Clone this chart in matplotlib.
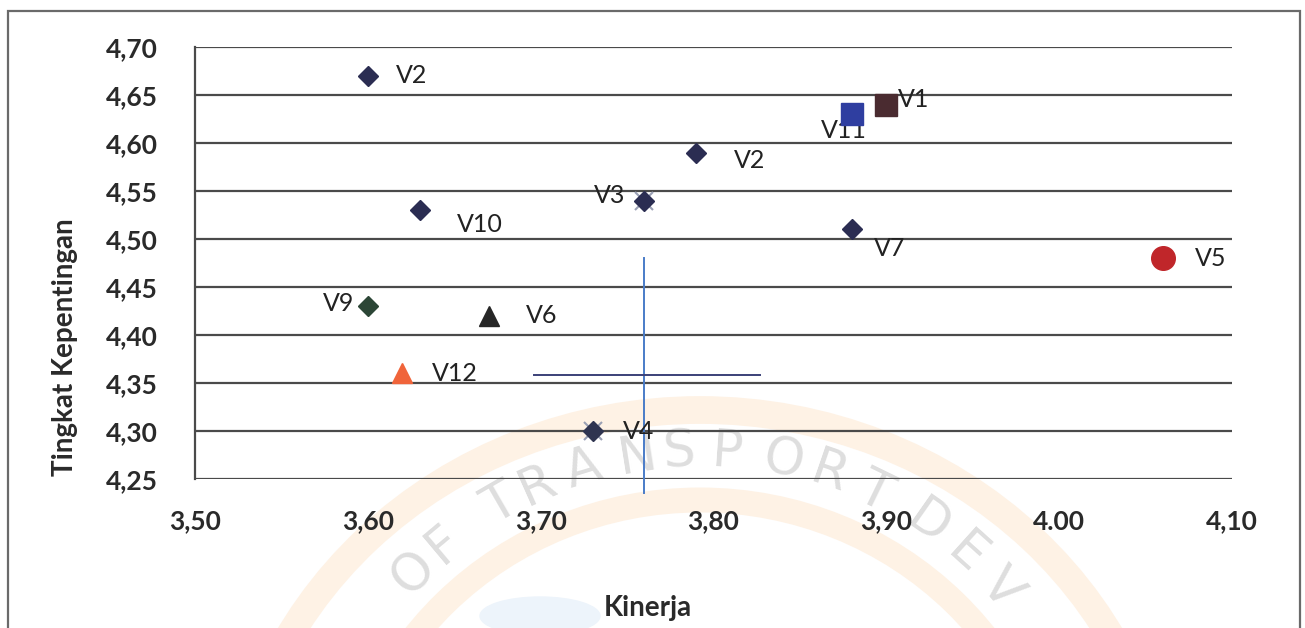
import numpy as np
import matplotlib
matplotlib.use("Agg")
import matplotlib.pyplot as plt
from matplotlib.patches import Arc, Ellipse, Rectangle

# --- data -------------------------------------------------------------
labels = ['V1', 'V2', 'V2', 'V3', 'V4', 'V5', 'V6', 'V7', 'V9', 'V10', 'V11', 'V12']
kinerja = [3.90, 3.60, 3.79, 3.76, 3.73, 4.06, 3.67, 3.88, 3.60, 3.63, 3.88, 3.62]
kepentingan = [4.64, 4.67, 4.59, 4.54, 4.30, 4.48, 4.42, 4.51, 4.43, 4.53, 4.63, 4.36]

x_ticks = [3.50, 3.60, 3.70, 3.80, 3.90, 4.00, 4.10]
x_tick_labels = ['3,50', '3,60', '3,70', '3,80', '3,90', '4.00', '4,10']
y_ticks = [4.25, 4.30, 4.35, 4.40, 4.45, 4.50, 4.55, 4.60, 4.65, 4.70]
y_tick_labels = ['4,25', '4,30', '4,35', '4,40', '4,45', '4,50', '4,55', '4,60', '4,65', '4,70']

# reference lines
vline_x = 3.76
vline_y = (4.235, 4.48)
hline_y = 4.358
hline_x = (3.696, 3.827)

# marker style per point
styles = {
    'V1':  dict(marker='s', ms=16, color='#4a2b30'),
    'V2':  dict(marker='D', ms=10, color='#2b2d52'),
    'V3':  dict(marker='D', ms=10, color='#2b2d52'),
    'V4':  dict(marker='D', ms=10, color='#2f3450'),
    'V5':  dict(marker='o', ms=17, color='#c0262a'),
    'V6':  dict(marker='^', ms=14, color='#262626'),
    'V7':  dict(marker='D', ms=10, color='#2b2d52'),
    'V9':  dict(marker='D', ms=10, color='#2c4636'),
    'V10': dict(marker='D', ms=10, color='#2b2d52'),
    'V11': dict(marker='s', ms=16, color='#2f3ea0'),
    'V12': dict(marker='^', ms=14, color='#f0643a'),
}
# label placement (offset in points, horizontal alignment)
label_pos = [
    ((8, 4), 'left'),     # V1
    ((20, 0), 'left'),    # V2
    ((27, -6), 'left'),   # V2
    ((-14, 4), 'right'),  # V3
    ((22, 0), 'left'),    # V4
    ((23, 0), 'left'),    # V5
    ((27, 0), 'left'),    # V6
    ((16, -14), 'left'),  # V7
    ((-10, 2), 'right'),  # V9
    ((27, -10), 'left'),  # V10
    ((11, -12), 'right'), # V11
    ((21, 0), 'left'),    # V12
]

W, H = 1305, 628
fig = plt.figure(figsize=(W / 100, H / 100), dpi=100)
fig.patch.set_facecolor('white')

# --- background seal (faint) -----------------------------------------
bg = fig.add_axes([0, 0, 1, 1], zorder=0)
bg.set_xlim(0, W)
bg.set_ylim(H, 0)
bg.axis('off')
cx, cy = 700, 850
bg.add_patch(Arc((cx, cy), 940, 880, theta1=180, theta2=360,
                 color='#fef2e5', lw=20))
bg.add_patch(Arc((cx, cy), 720, 700, theta1=180, theta2=360,
                 color='#fef2e5', lw=18))
bg.add_patch(Ellipse((540, 616), 120, 38, color='#edf4fb'))
seal_letters = list('OFTRANSPORTDEV')
seal_angles = [136, 130, 120, 114, 107, 99, 93, 86, 78, 71, 64, 55, 48, 41]
for ch, ang in zip(seal_letters, seal_angles):
    r = 398
    t = np.deg2rad(ang)
    bg.text(cx + r * np.cos(t), cy - r * np.sin(t), ch, rotation=ang - 90,
            ha='center', va='center', fontsize=37, color='#dedede',
            family='DejaVu Sans')

# outer frame
fig.add_artist(Rectangle((8 / W, -0.05), (1300 - 8) / W, 1.05 - 11 / H,
                         transform=fig.transFigure, fill=False,
                         edgecolor='#6a6a6a', lw=1.6))

# --- main chart -------------------------------------------------------
ax = fig.add_axes([195 / W, 1 - 479 / H, (1232 - 195) / W, (479 - 47) / H], zorder=1)
ax.set_facecolor('none')
ax.set_xlim(3.50, 4.10)
ax.set_ylim(4.25, 4.70)

ax.set_yticks(y_ticks)
ax.set_yticklabels(y_tick_labels)
ax.set_xticks(x_ticks)
ax.set_xticklabels(x_tick_labels)
ax.tick_params(length=0, labelsize=19, labelcolor='#2a2a2a')
ax.tick_params(axis='y', pad=27)
ax.tick_params(axis='x', pad=22)
for t in ax.get_xticklabels() + ax.get_yticklabels():
    t.set_fontfamily('Lato')
    t.set_fontweight('bold')

ax.grid(axis='y', color='#4a4a4a', lw=1.6)
ax.set_axisbelow(True)
for s in ['top', 'right', 'bottom']:
    ax.spines[s].set_visible(False)
ax.spines['left'].set_color('#4a4a4a')
ax.spines['left'].set_linewidth(1.6)

# reference lines
ax.plot([vline_x, vline_x], vline_y, color='#4a7cc8', lw=1.4, clip_on=False, zorder=2)
ax.plot(hline_x, [hline_y, hline_y], color='#3b4178', lw=1.4, zorder=2)

# faint cross markers under V3 and V4
for lab, x, y in zip(labels, kinerja, kepentingan):
    if lab in ('V3', 'V4'):
        ax.plot(x, y, marker='x', ms=13, mew=1.5, color='#9aa0b4', zorder=3)

for lab, x, y, (off, ha) in zip(labels, kinerja, kepentingan, label_pos):
    st = styles[lab]
    ax.plot(x, y, linestyle='none', marker=st['marker'], ms=st['ms'],
            color=st['color'], mec=st['color'], zorder=5)
    ax.annotate(lab, (x, y), xytext=off, textcoords='offset points',
                ha=ha, va='center', fontsize=18, color='#222222',
                family='Lato', zorder=4)

fig.text(648 / W, 1 - 608 / H, 'Kinerja', ha='center', va='center',
         fontsize=20, fontweight='bold', family='Lato', color='#2a2a2a')
fig.text(65 / W, 1 - 347 / H, 'Tingkat Kepentingan', ha='center', va='center',
         rotation=90, fontsize=20, fontweight='bold', family='Lato', color='#2a2a2a')

fig.savefig('out.png', dpi=100, facecolor='white')
